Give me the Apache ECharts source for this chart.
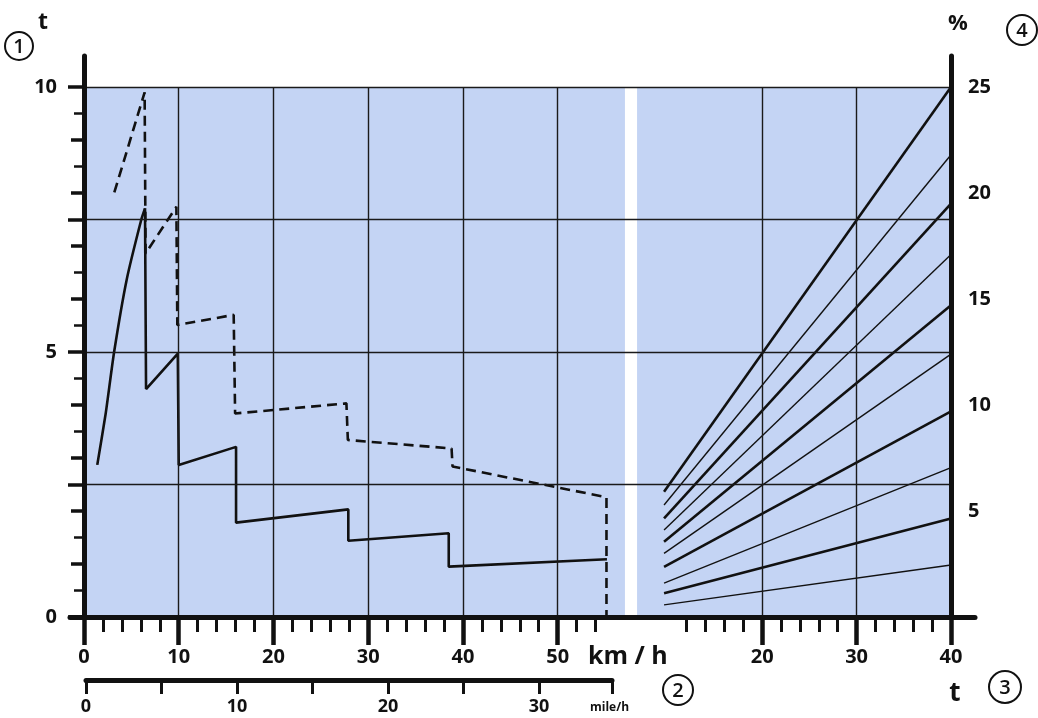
<!DOCTYPE html>
<html><head><meta charset="utf-8">
<script src="https://cdn.jsdelivr.net/npm/echarts@6/dist/echarts.min.js"></script>
<style>html,body{margin:0;padding:0;background:#fff}#c{width:1038px;height:718px}</style>
</head><body><div id="c"></div>
<script>
// ---------- data ----------
// left panel: tractive force (t) vs speed (km/h)
const solidRise = [[1.4,2.87],[2.29,3.84],[3.17,4.99],[4.5,6.36],[6.05,7.5],[6.44,7.71]];
const solidSaw = [[6.44,7.71],[6.55,4.3],[9.9,4.97],[10.0,4.97],[10.0,2.87],[16.05,3.21],[16.05,1.78],[27.9,2.03],[27.9,1.44],[38.5,1.58],[38.5,0.95],[55.2,1.09]];
const dashedCurve = [[3.2,8.01],[6.4,9.9],[6.5,6.86],[9.75,7.74],[9.85,5.51],[15.8,5.70],[15.95,3.84],[27.7,4.03],[27.85,3.34],[38.8,3.18],[38.9,2.84],[55.15,2.26],[55.15,0]];
// right panel: gradient lines, % vs weight t
const fanStartT = 9.6;
const fanEndT = 40;
const fanStartPct = [5.91,5.28,4.65,4.10,3.55,3.0,2.36,1.6,1.12,0.57];
const fanEndPct = [25,21.8,19.5,17.1,14.7,12.4,9.7,7.05,4.65,2.45];
const fanThick = [true,false,true,false,true,false,true,false,true,false];
// ticks and labels
const kmhMajor = [0,10,20,30,40,50];
const kmhMinor = [2,4,6,8,12,14,16,18,22,24,26,28,32,34,36,38,42,44,46,48,52,54];
const tMajor = [20,30,40];
const tMinor = [12,14,16,18,22,24,26,28,32,34,36,38];
const forceLabels = [0,5,10];
const forceMajorTicks = [0,2.5,5,7.5,10];
const forceIntTicks = [1,2,3,4,6,7,8,9];
const forceHalfTicks = [0.5,1.5,3.5,4.5,5.5,6.5,8.5,9.5];
const pctLabels = [5,10,15,20,25];
const mphLabels = [0,10,20,30];
// grid lines
const hGrid = [2.5,5,7.5,10];
const vGridKmh = [10,20,30,40,50];
const vGridT = [20,30];

// ---------- layout constants ----------
const KMH_MIN = -1.478, KMH_MAX = 94.05;
const T_MIN = -53.33, T_MAX = 42.54;
const Y_MAX = 10.585, PCT_MAX = 26.46;
const LEFT_PANEL_END = 57.1;   // km/h
const RIGHT_PANEL_START = 6.74; // t
const HLINE_END = 91.5;        // km/h units
const MPH_MAX = 34.83;

const F = '"Open Sans","Noto Sans",sans-serif';
const INK = '#111';
const BLUE = '#c4d4f4';
const lab = (size, extra) => Object.assign({color: INK, fontFamily: F, fontSize: size, fontWeight: 'bold'}, extra || {});

function xa(o){ return Object.assign({type:'value', gridIndex:0, position:'bottom', z:10, splitLine:{show:false}, axisLine:{show:false, onZero:false}, axisLabel:{show:false}}, o); }
function ya(o){ return Object.assign({type:'value', gridIndex:0, z:10, splitLine:{show:false}, axisLine:{show:false, onZero:false}, axisLabel:{show:false}}, o); }

const xAxis = [
  xa({min:KMH_MIN, max:KMH_MAX,
      axisLine:{show:true, onZero:false, lineStyle:{color:INK, width:5}},
      axisTick:{show:true, customValues:kmhMajor, length:28, lineStyle:{color:INK, width:4.5}},
      axisLabel:Object.assign({show:true, customValues:kmhMajor, margin:30}, lab(20))}),
  xa({min:KMH_MIN, max:KMH_MAX,
      axisTick:{show:true, customValues:kmhMinor, length:15, lineStyle:{color:INK, width:3}}}),
  xa({min:T_MIN, max:T_MAX,
      axisTick:{show:true, customValues:tMajor, length:28, lineStyle:{color:INK, width:4.5}},
      axisLabel:Object.assign({show:true, customValues:tMajor, margin:30}, lab(20))}),
  xa({min:T_MIN, max:T_MAX,
      axisTick:{show:true, customValues:tMinor, length:15, lineStyle:{color:INK, width:3}}}),
  xa({gridIndex:1, min:0, max:MPH_MAX, interval:5,
      axisLine:{show:true, onZero:false, lineStyle:{color:INK, width:5}},
      axisTick:{show:true, length:14, lineStyle:{color:INK, width:3}},
      axisLabel:Object.assign({show:true, customValues:mphLabels, margin:18}, lab(18))})
];

const yAxis = [
  ya({min:0, max:Y_MAX, position:'left', offset:-14,
      axisLine:{show:true, onZero:false, lineStyle:{color:INK, width:5}},
      axisTick:{show:true, customValues:forceMajorTicks, length:16, lineStyle:{color:INK, width:3.5}},
      axisLabel:Object.assign({show:true, customValues:forceLabels, margin:27}, lab(20))}),
  ya({min:0, max:Y_MAX, position:'left', offset:-14,
      axisTick:{show:true, customValues:forceIntTicks, length:13, lineStyle:{color:INK, width:3.5}}}),
  ya({min:0, max:Y_MAX, position:'left', offset:-14,
      axisTick:{show:true, customValues:forceHalfTicks, length:10, lineStyle:{color:INK, width:2.5}}}),
  ya({min:0, max:PCT_MAX, position:'right', offset:-24,
      axisLine:{show:true, onZero:false, lineStyle:{color:INK, width:5}},
      axisTick:{show:false},
      axisLabel:Object.assign({show:true, customValues:pctLabels, margin:17}, lab(20))}),
  ya({gridIndex:1, min:0, max:1, show:false})
];

const gridLineStyle = {color:'#1a1a1a', width:1.4, type:'solid'};
const hLines = hGrid.map(v => [{coord:[0, v]}, {coord:[HLINE_END, v]}]);
const vLinesLeft = vGridKmh.map(v => [{coord:[v, 0]}, {coord:[v, 10]}]);
const vLinesRight = vGridT.map(v => [{coord:[v, 0]}, {coord:[v, 10]}]);

const series = [
  {type:'line', name:'bgL', xAxisIndex:0, yAxisIndex:0, data:[], z:1, silent:true,
   markArea:{silent:true, itemStyle:{color:BLUE}, data:[[{coord:[0,0]},{coord:[LEFT_PANEL_END,10]}]]}},
  {type:'line', name:'bgR', xAxisIndex:2, yAxisIndex:0, data:[], z:1, silent:true,
   markArea:{silent:true, itemStyle:{color:BLUE}, data:[[{coord:[RIGHT_PANEL_START,0]},{coord:[40,10]}]]}},
  {type:'line', name:'gridL', xAxisIndex:0, yAxisIndex:0, data:[], z:2, silent:true,
   markLine:{silent:true, symbol:['none','none'], label:{show:false}, lineStyle:gridLineStyle, data:hLines.concat(vLinesLeft)}},
  {type:'line', name:'gridR', xAxisIndex:2, yAxisIndex:0, data:[], z:2, silent:true,
   markLine:{silent:true, symbol:['none','none'], label:{show:false}, lineStyle:gridLineStyle, data:vLinesRight}},
  {type:'line', name:'solidRise', xAxisIndex:0, yAxisIndex:0, data:solidRise, z:3, symbol:'none', smooth:0.2,
   lineStyle:{color:INK, width:2.6}},
  {type:'line', name:'solidSaw', xAxisIndex:0, yAxisIndex:0, data:solidSaw, z:3, symbol:'none',
   lineStyle:{color:INK, width:2.6}},
  {type:'line', name:'dashed', xAxisIndex:0, yAxisIndex:0, data:dashedCurve, z:3, symbol:'none',
   lineStyle:{color:INK, width:2.6, type:[10,6]}}
];
fanStartPct.forEach((s, i) => {
  series.push({type:'line', name:'fan'+i, xAxisIndex:2, yAxisIndex:3, z:3, symbol:'none',
    data:[[fanStartT, s],[fanEndT, fanEndPct[i]]],
    lineStyle:{color:INK, width: fanThick[i] ? 2.6 : 1.4}});
});

function txt(x, y, s, size, align, weight){
  return {type:'text', x:x, y:y, z:20, style:{text:s, fill:INK, font:(weight||'bold')+' '+size+'px '+F, align:align||'center', verticalAlign:'middle'}};
}
function circ(x, y, r, s){
  return [
    {type:'circle', z:20, shape:{cx:x, cy:y, r:r}, style:{fill:'none', stroke:INK, lineWidth:2}},
    txt(x, y+1, s, 20, 'center', '600')
  ];
}

const graphic = [].concat(
  txt(43, 22, 't', 23),
  circ(19, 46, 14, '1'),
  txt(958, 24, '%', 22),
  circ(1022, 30, 15, '4'),
  txt(588, 657, 'km / h', 25, 'left'),
  circ(678, 690, 15, '2'),
  txt(955, 694, 't', 26),
  circ(1005, 687, 16, '3'),
  txt(590, 708, 'mile/h', 12, 'left')
);

const chart = echarts.init(document.getElementById('c'), null, {renderer:'canvas'});
chart.setOption({
  animation:false,
  backgroundColor:'#fff',
  grid:[
    {left:70, right:63, top:56, bottom:101, containLabel:false},
    {left:86, width:526, top:678, height:2, containLabel:false}
  ],
  xAxis:xAxis,
  yAxis:yAxis,
  series:series,
  graphic:graphic
});
</script></body></html>
